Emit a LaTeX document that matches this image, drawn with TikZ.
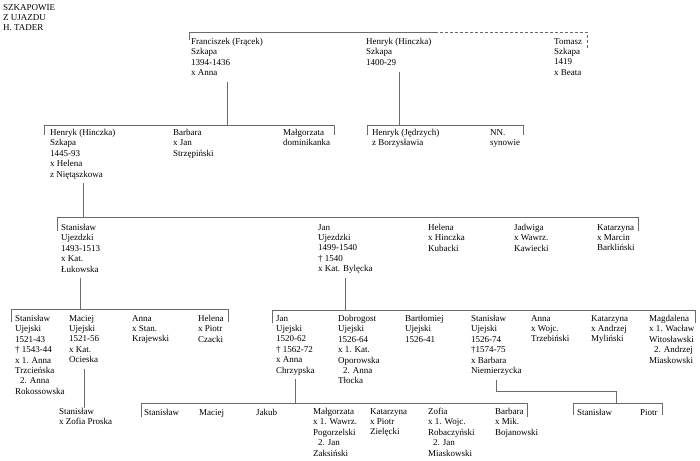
\documentclass[tikz,border=0pt]{standalone}
\usepackage{fontspec}
\setmainfont{Liberation Serif}
\usepackage{tikz}
\definecolor{treegray}{rgb}{0.42,0.42,0.42}

\begin{document}
\begin{tikzpicture}[
        x=1pt, y=-1pt,
        person/.style={anchor=north west, align=left, inner sep=0pt,
            font=\fontsize{9}{10.4}\selectfont,
            execute at begin node=\strut, execute at end node=\strut},
        kin/.style={draw=treegray, line width=0.6pt},
        drop/.style={kin, shorten <=3pt},
        guess/.style={kin, dash pattern=on 3pt off 2pt},
    ]
    \useasboundingbox (0,0) rectangle (700,460);
    % Add title
    \node (title) at (3,4) [person] {SZKAPOWIE\\Z UJAZDU\\H. TADER};
    % first generation
    \node (fran) at (191,38) [person] {Franciszek (Frącek)\\Szkapa\\1394-1436\\x Anna};
    \node (henA) at (366,38) [person] {Henryk (Hinczka)\\Szkapa\\1400-29};
    \node (tomasz) at (554,38) [person] {Tomasz\\Szkapa\\1419\\x Beata};
    % second generation
    \node (henB) at (50,129) [person] {Henryk (Hinczka)\\Szkapa\\1445-93\\x Helena\\z Niętąszkowa};
    \node (barbB) at (173,129) [person] {Barbara\\x Jan\\Strzępiński};
    \node (malgB) at (283,129) [person] {Małgorzata\\dominikanka};
    \node (henJ) at (372,129) [person] {Henryk (Jędrzych)\\z Borzysławia};
    \node (nn) at (490,129) [person] {NN.\\synowie};
    % third generation
    \node (stanC) at (61,224) [person] {Stanisław\\Ujezdzki\\1493-1513\\x Kat.\\Łukowska};
    \node (janC) at (318,224) [person] {Jan\\Ujezdzki\\1499-1540\\† 1540\\x Kat. Bylęcka};
    \node (helC) at (428,224) [person] {Helena\\x Hinczka\\Kubacki};
    \node (jadC) at (514,224) [person] {Jadwiga\\x Wawrz.\\Kawiecki};
    \node (katC) at (597,224) [person] {Katarzyna\\x Marcin\\Barkliński};
    % fourth generation
    \node (stanD) at (15,315) [person] {Stanisław\\Ujejski\\1521-43\\† 1543-44\\x 1. Anna\\Trzcieńska\\\hspace*{5pt}2. Anna\\Rokossowska};
    \node (macD) at (69,315) [person] {Maciej\\Ujejski\\1521-56\\x Kat.\\Ocieska};
    \node (annD) at (132,315) [person] {Anna\\x Stan.\\Krajewski};
    \node (helD) at (198,315) [person] {Helena\\x Piotr\\Czacki};
    \node (janD) at (276,315) [person] {Jan\\Ujejski\\1520-62\\† 1562-72\\x Anna\\Chrzypska};
    \node (dobD) at (338,315) [person] {Dobrogost\\Ujejski\\1526-64\\x 1. Kat.\\Oporowska\\\hspace*{5pt}2. Anna\\Tłocka};
    \node (bartD) at (405,315) [person] {Bartłomiej\\Ujejski\\1526-41};
    \node (stanE) at (471,315) [person] {Stanisław\\Ujejski\\1526-74\\†1574-75\\x Barbara\\Niemierzycka};
    \node (annE) at (531,315) [person] {Anna\\x Wojc.\\Trzebiński};
    \node (katD) at (591,315) [person] {Katarzyna\\x Andrzej\\Myliński};
    \node (magD) at (649,315) [person] {Magdalena\\x 1. Wacław\\Witosławski\\\hspace*{5pt}2. Andrzej\\Miaskowski};
    % fifth generation
    \node (stanZ) at (59,408) [person] {Stanisław\\x Zofia Proska};
    \node (stanF) at (144,408) [person] {Stanisław};
    \node (macF) at (199,408) [person] {Maciej};
    \node (jakF) at (256,408) [person] {Jakub};
    \node (malgF) at (313,408) [person] {Małgorzata\\x 1. Wawrz.\\Pogorzelski\\\hspace*{5pt}2. Jan\\Zaksiński};
    \node (katF) at (370,408) [person] {Katarzyna\\x Piotr\\Zielęcki};
    \node (zofF) at (428,408) [person] {Zofia\\x 1. Wojc.\\Robaczyński\\\hspace*{5pt}2. Jan\\Miaskowski};
    \node (barbF) at (495,408) [person] {Barbara\\x Mik.\\Bojanowski};
    \node (stanG) at (577,408) [person] {Stanisław};
    \node (piotrG) at (640,408) [person] {Piotr};

    % brothers of the first generation
    \coordinate (topL) at (189,32);
    \coordinate (topM) at (435,32);
    \coordinate (topR) at (587,32);
    \draw[kin] (topL) ++(0,8) -- (topL) -- (topM);
    \draw[guess] (topM) -- (topR) -- ++(0,16);
    % children of Franciszek
    \coordinate (franL) at (44,125);
    \coordinate (franR) at (334,125);
    \draw[kin] (franL) ++(0,10) -- (franL) -- (franR) -- ++(0,10);
    \draw[drop] (fran.south) -- (fran.south |- franL);
    % children of Henryk (Hinczka), 1400-29
    \coordinate (henAL) at (367,125);
    \coordinate (henAR) at (523,125);
    \draw[kin] (henAL) ++(0,10) -- (henAL) -- (henAR) -- ++(0,10);
    \draw[drop] (henA.south) -- (henA.south |- henAL);
    % children of Henryk (Hinczka), 1445-93
    \coordinate (henBL) at (57,217);
    \coordinate (henBR) at (638,217);
    \draw[kin] (henBL) ++(0,14) -- (henBL) -- (henBR) -- ++(0,14);
    \draw[drop] (henB.south) -- (henB.south |- henBL);
    % children of Stanisław Ujezdzki
    \coordinate (stanCL) at (11,309);
    \coordinate (stanCR) at (228,309);
    \draw[kin] (stanCL) ++(0,13) -- (stanCL) -- (stanCR) -- ++(0,13);
    \draw[drop] (stanC.south) -- (stanC.south |- stanCL);
    % children of Jan Ujezdzki
    \coordinate (janCL) at (272,310);
    \coordinate (janCR) at (695,310);
    \draw[kin] (janCL) ++(0,13) -- (janCL) -- (janCR) -- ++(0,13);
    \draw[drop] (janC.south) -- (janC.south |- janCL);
    % son of Maciej
    \draw[drop] (macD.south) -- (macD.south |- stanZ.north);
    % children of Jan Ujejski
    \coordinate (janDL) at (141,403);
    \coordinate (janDR) at (527,403);
    \draw[kin] (janDL) ++(0,14) -- (janDL) -- (janDR) -- ++(0,14);
    \draw[drop] (janD.south) -- (janD.south |- janDL);
    % sons of Stanisław Ujejski
    \coordinate (stanEL) at (573,403);
    \coordinate (stanER) at (662,403);
    \coordinate (stanEK) at (616,391);
    \draw[kin] (stanEL) ++(0,12) -- (stanEL) -- (stanER) -- ++(0,12);
    \draw[drop] (stanE.south) |- (stanEK) -- (stanEK |- stanEL);
\end{tikzpicture}
\end{document}
